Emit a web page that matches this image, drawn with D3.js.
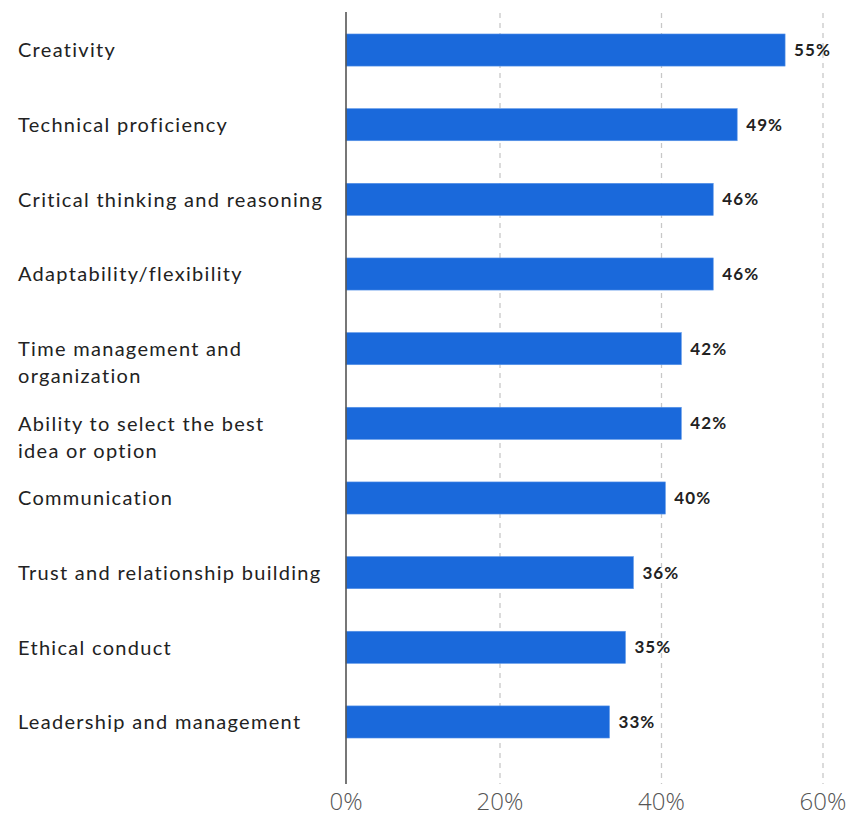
<!DOCTYPE html>
<html>
<head>
<meta charset="utf-8">
<script src="https://cdn.jsdelivr.net/npm/d3@7"></script>
<style>
  html, body { margin: 0; padding: 0; background: #fff; }
  svg { display: block; }
</style>
</head>
<body>
<svg id="chart" width="849" height="816"></svg>
<script>
const categories = [
  "Creativity",
  "Technical proficiency",
  "Critical thinking and reasoning",
  "Adaptability/flexibility",
  "Time management and\norganization",
  "Ability to select the best\nidea or option",
  "Communication",
  "Trust and relationship building",
  "Ethical conduct",
  "Leadership and management"
];
const values = [55, 49, 46, 46, 42, 42, 40, 36, 35, 33];
const tickValues = [0, 20, 40, 60];
const tickLabels = ["0%", "20%", "40%", "60%"];

const svg = d3.select("#chart");

const x = d3.scaleLinear().domain([0, 60]).range([346, 825]);
// axis/grid positions as drawn in the reference (slightly uneven spacing)
const xAxis = d3.scaleLinear().domain([0, 20, 60]).range([346, 500, 823]);

const y = d3.scaleBand().domain(categories).range([12.7, 759.3]).paddingInner(0.57).paddingOuter(0.285);

// grid lines
svg.append("g").selectAll("line")
  .data(tickValues.filter(d => d > 0))
  .join("line")
  .attr("x1", d => xAxis(d)).attr("x2", d => xAxis(d))
  .attr("y1", 13).attr("y2", 784)
  .attr("stroke", "#c8c8c8").attr("stroke-width", 1.3)
  .attr("stroke-dasharray", "5,5");

// bars
svg.append("g").selectAll("rect")
  .data(values)
  .join("rect")
  .attr("x", x(0))
  .attr("y", (d, i) => y(categories[i]))
  .attr("width", d => x(d) - x(0))
  .attr("height", y.bandwidth())
  .attr("fill", "#1a69db")
  .attr("stroke", "#5a95e8").attr("stroke-width", 0.6);

// y axis line
svg.append("line")
  .attr("x1", x(0)).attr("x2", x(0))
  .attr("y1", 12).attr("y2", 784)
  .attr("stroke", "#555").attr("stroke-width", 1.6);

// value labels
svg.append("g").selectAll("text")
  .data(values)
  .join("text")
  .attr("x", d => x(d) + 9)
  .attr("y", (d, i) => y(categories[i]) + y.bandwidth() / 2)
  .attr("dy", "0.36em")
  .attr("font-family", "Lato, 'Open Sans', sans-serif")
  .attr("font-weight", 700)
  .attr("font-size", 17)
  .attr("letter-spacing", 1.1)
  .attr("fill", "#222")
  .text(d => d + "%");

// category labels
const catG = svg.append("g");
categories.forEach((c, i) => {
  const lines = c.split("\n");
  const t = catG.append("text")
    .attr("x", 18)
    .attr("y", y(c) + y.bandwidth() / 2)
    .attr("font-family", "Lato, 'Noto Sans', sans-serif")
    .attr("font-size", 20)
    .attr("letter-spacing", 1.3)
    .attr("fill", "#222");
  lines.forEach((ln, j) => {
    t.append("tspan")
      .attr("x", 18)
      .attr("dy", j === 0 ? "0.36em" : "1.35em")
      .text(ln);
  });
});

// x tick labels
svg.append("g").selectAll("text")
  .data(tickValues)
  .join("text")
  .attr("x", d => xAxis(d))
  .attr("y", 810)
  .attr("text-anchor", "middle")
  .attr("font-family", "'Open Sans', sans-serif")
  .attr("font-weight", 300)
  .attr("font-size", 24)
  .attr("fill", "#555")
  .text((d, i) => tickLabels[i]);
</script>
</body>
</html>
